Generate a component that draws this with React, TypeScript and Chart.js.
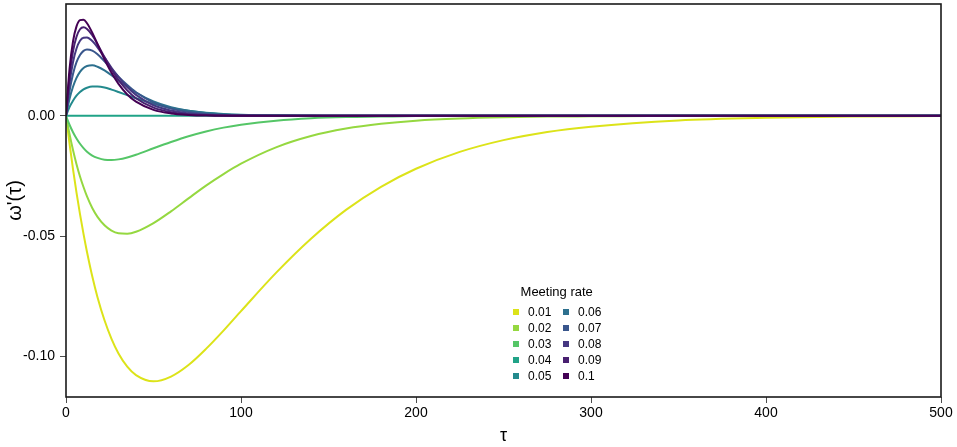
import { useEffect, useRef } from "react";
import { Chart, registerables, type Plugin } from "chart.js";

Chart.register(...registerables);

// τ sample positions shared by every curve
const TAU = [0, 2, 4, 6, 8, 10, 12, 15, 18, 22, 26, 30, 35, 40, 50, 60, 70, 80, 90, 100, 120, 140, 160, 180, 200, 225, 250, 275, 300, 350, 400, 450, 500];

const RATES = ["0.01", "0.02", "0.03", "0.04", "0.05", "0.06", "0.07", "0.08", "0.09", "0.1"];

// ω'(τ), one array per meeting rate
const W_001 = [0, -0.0115, -0.0222, -0.0319, -0.0409, -0.0491, -0.0566, -0.0667, -0.0754, -0.085, -0.0927, -0.0988, -0.1043, -0.1078, -0.1104, -0.1084, -0.1036, -0.0969, -0.0893, -0.0812, -0.0653, -0.0511, -0.0391, -0.0295, -0.022, -0.015, -0.0101, -0.0067, -0.0045, -0.0019, -0.0008, -0.0003, -0.0001];
const W_002 = [0, -0.0075, -0.0142, -0.0201, -0.0252, -0.0296, -0.0335, -0.0383, -0.042, -0.0455, -0.0477, -0.0488, -0.049, -0.0482, -0.0446, -0.0397, -0.0343, -0.029, -0.0242, -0.0199, -0.0131, -0.0084, -0.0053, -0.0033, -0.002, -0.0011, -0.0006, -0.0003, -0.0002, 0, 0, 0, 0];
const W_003 = [0, -0.0037, -0.0068, -0.0094, -0.0116, -0.0134, -0.0149, -0.0165, -0.0175, -0.0183, -0.0184, -0.0181, -0.0173, -0.0162, -0.0135, -0.0109, -0.0085, -0.0065, -0.0049, -0.0037, -0.002, -0.001, -0.0005, -0.0003, -0.0001, 0, 0, 0, 0, 0, 0, 0, 0];
const W_004 = [0, 0, 0, 0, 0, 0, 0, 0, 0, 0, 0, 0, 0, 0, 0, 0, 0, 0, 0, 0, 0, 0, 0, 0, 0, 0, 0, 0, 0, 0, 0, 0, 0];
const W_005 = [0, 0.0036, 0.0063, 0.0084, 0.0099, 0.011, 0.0117, 0.0122, 0.0122, 0.0118, 0.0109, 0.0099, 0.0086, 0.0073, 0.005, 0.0033, 0.0021, 0.0013, 0.0008, 0.0005, 0.0002, 0.0001, 0, 0, 0, 0, 0, 0, 0, 0, 0, 0, 0];
const W_006 = [0, 0.007, 0.0121, 0.0158, 0.0183, 0.0199, 0.0207, 0.021, 0.0204, 0.0189, 0.0169, 0.0147, 0.0121, 0.0097, 0.006, 0.0036, 0.0021, 0.0012, 0.0007, 0.0004, 0.0001, 0, 0, 0, 0, 0, 0, 0, 0, 0, 0, 0, 0];
const W_007 = [0, 0.0102, 0.0174, 0.0223, 0.0253, 0.027, 0.0276, 0.0271, 0.0256, 0.0227, 0.0195, 0.0163, 0.0128, 0.0098, 0.0055, 0.003, 0.0016, 0.0008, 0.0004, 0.0002, 0, 0, 0, 0, 0, 0, 0, 0, 0, 0, 0, 0, 0];
const W_008 = [0, 0.0134, 0.0223, 0.028, 0.0312, 0.0325, 0.0326, 0.0311, 0.0285, 0.0243, 0.02, 0.0161, 0.012, 0.0087, 0.0044, 0.0022, 0.001, 0.0005, 0.0002, 0.0001, 0, 0, 0, 0, 0, 0, 0, 0, 0, 0, 0, 0, 0];
const W_009 = [0, 0.0164, 0.0268, 0.0329, 0.036, 0.0368, 0.0361, 0.0335, 0.0298, 0.0244, 0.0193, 0.0149, 0.0106, 0.0073, 0.0034, 0.0015, 0.0006, 0.0003, 0.0001, 0, 0, 0, 0, 0, 0, 0, 0, 0, 0, 0, 0, 0, 0];
const W_010 = [0, 0.0193, 0.0309, 0.0372, 0.0398, 0.04, 0.0385, 0.0346, 0.0298, 0.0235, 0.0179, 0.0133, 0.0089, 0.0059, 0.0025, 0.001, 0.0004, 0.0001, 0, 0, 0, 0, 0, 0, 0, 0, 0, 0, 0, 0, 0, 0, 0];

const SERIES = [W_001, W_002, W_003, W_004, W_005, W_006, W_007, W_008, W_009, W_010];

const COLORS = ["#DCE319", "#95D840", "#55C667", "#20A387", "#238A8D", "#2D708E", "#39568C", "#453781", "#481F70", "#440154"];

const X_TICKS = [0, 100, 200, 300, 400, 500];
const Y_TICKS = [-0.1, -0.05, 0];

const FONT = "'Liberation Sans', Arial, Helvetica, sans-serif";

// panel border all the way round (ggplot style box)
const framePlugin: Plugin<"line"> = {
  id: "frame",
  afterDatasetsDraw(chart) {
    const { ctx, chartArea: a } = chart;
    ctx.save();
    ctx.strokeStyle = "#1a1a1a";
    ctx.lineWidth = 1.6;
    ctx.strokeRect(a.left, a.top, a.right - a.left, a.bottom - a.top);
    ctx.restore();
  },
};

export default function App() {
  const canvasRef = useRef<HTMLCanvasElement>(null);
  const chartRef = useRef<Chart<"line"> | null>(null);

  useEffect(() => {
    if (!canvasRef.current) return;
    if (chartRef.current) {
      chartRef.current.destroy();
      chartRef.current = null;
    }

    const tickGrid = {
      display: true,
      drawOnChartArea: false,
      drawTicks: true,
      tickLength: 6,
      color: "#4d4d4d",
      lineWidth: 1,
    };

    chartRef.current = new Chart(canvasRef.current, {
      type: "line",
      data: {
        datasets: SERIES.map((vals, i) => ({
          label: RATES[i],
          data: TAU.map((t, j) => ({ x: t, y: vals[j] })),
          borderColor: COLORS[i],
          backgroundColor: COLORS[i],
          borderWidth: 2,
          pointRadius: 0,
          cubicInterpolationMode: "monotone" as const,
          fill: false,
          order: SERIES.length - i,
        })),
      },
      options: {
        animation: false,
        responsive: false,
        layout: { padding: { left: 0, right: 16, top: 4, bottom: 0 } },
        plugins: {
          legend: { display: false },
          tooltip: { enabled: false },
        },
        scales: {
          x: {
            type: "linear",
            min: 0,
            max: 500,
            afterBuildTicks: (s) => {
              s.ticks = X_TICKS.map((v) => ({ value: v }));
            },
            // fixed axis band; no extra room for the end labels
            afterFit: (s) => {
              s.height = 50;
              s.paddingLeft = 0;
              s.paddingRight = 0;
            },
            grid: tickGrid,
            border: { display: false },
            ticks: {
              color: "#000",
              font: { family: FONT, size: 14 },
              padding: 2,
              maxRotation: 0,
            },
            title: {
              display: true,
              text: "τ",
              color: "#000",
              font: { family: FONT, size: 18 },
              padding: { top: 0, bottom: 0 },
            },
          },
          y: {
            type: "linear",
            min: -0.1169,
            max: 0.0465,
            afterBuildTicks: (s) => {
              s.ticks = Y_TICKS.map((v) => ({ value: v }));
            },
            afterFit: (s) => {
              s.width = 66;
              s.paddingTop = 0;
              s.paddingBottom = 0;
            },
            grid: tickGrid,
            border: { display: false },
            ticks: {
              color: "#000",
              font: { family: FONT, size: 14 },
              padding: 5,
              callback: (v) => Number(v).toFixed(2),
            },
            title: {
              display: true,
              text: "ω'(τ)",
              color: "#000",
              font: { family: FONT, size: 20 },
              padding: { top: 3, bottom: 0 },
            },
          },
        },
      },
      plugins: [framePlugin],
    });

    return () => {
      chartRef.current?.destroy();
      chartRef.current = null;
    };
  }, []);

  return (
    <div style={{ position: "absolute", left: 0, top: 0, width: 957, height: 447, background: "#fff" }}>
      <canvas ref={canvasRef} width={957} height={447} role="img" aria-label="omega prime of tau by meeting rate" />
      <div
        style={{
          position: "absolute",
          left: 556.7,
          top: 290.7,
          transform: "translate(-50%, -50%)",
          font: `13px ${FONT}`,
          color: "#000",
          whiteSpace: "nowrap",
        }}
      >
        Meeting rate
      </div>
      {RATES.map((r, i) => {
        const col = Math.floor(i / 5);
        const row = i % 5;
        return (
          <div
            key={r}
            style={{
              position: "absolute",
              left: 513 + col * 50,
              top: 311.7 + row * 16.1 - 8,
              height: 16,
              display: "flex",
              alignItems: "center",
              font: `12px ${FONT}`,
              color: "#000",
              whiteSpace: "nowrap",
            }}
          >
            <span style={{ display: "inline-block", width: 6, height: 6, background: COLORS[i], marginRight: 9 }} />
            {r}
          </div>
        );
      })}
    </div>
  );
}
